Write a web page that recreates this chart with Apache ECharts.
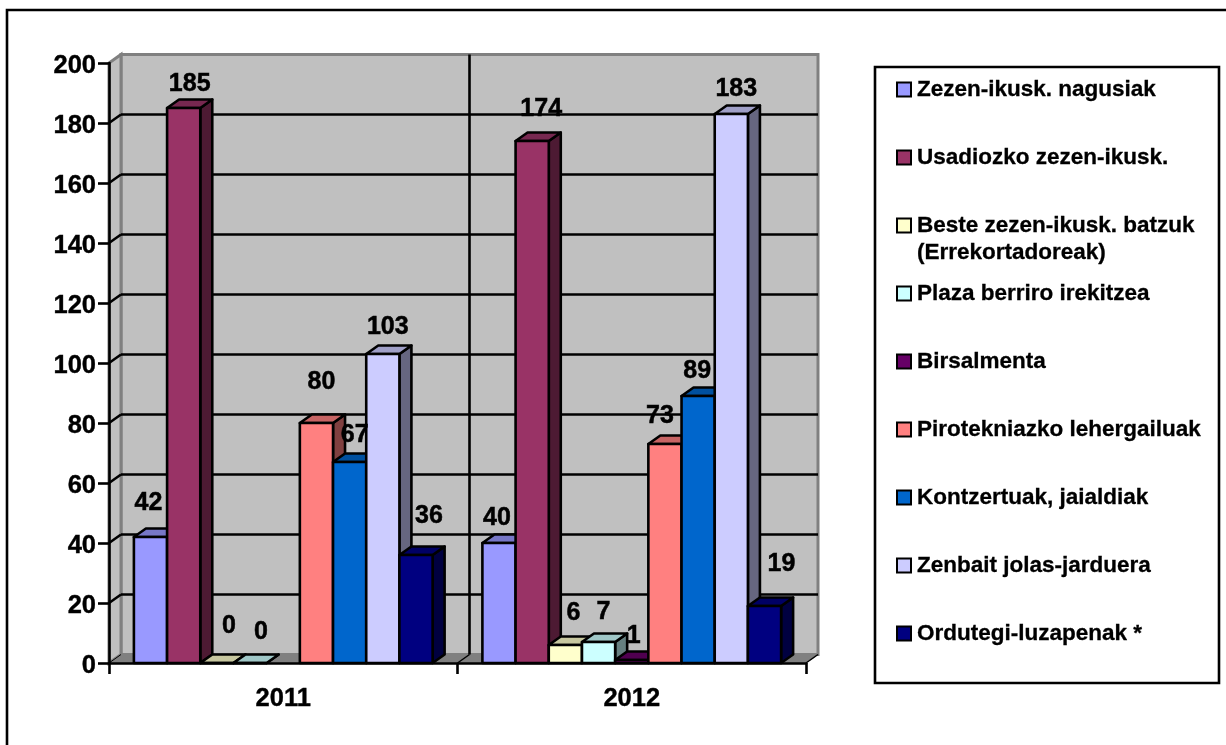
<!DOCTYPE html>
<html>
<head>
<meta charset="utf-8">
<style>html,body{margin:0;padding:0;background:#fff}#c{width:1226px;height:745px}</style>
<script src="https://cdn.jsdelivr.net/npm/echarts@6/dist/echarts.min.js"></script>
</head>
<body>
<div id="c"></div>
<script>
const categories = ['2011', '2012'];
const seriesNames = [
  'Zezen-ikusk. nagusiak',
  'Usadiozko zezen-ikusk.',
  'Beste zezen-ikusk. batzuk\n(Errekortadoreak)',
  'Plaza berriro irekitzea',
  'Birsalmenta',
  'Pirotekniazko lehergailuak',
  'Kontzertuak, jaialdiak',
  'Zenbait jolas-jarduera',
  'Ordutegi-luzapenak *'
];
const zezenNagusiak = [42, 40];
const usadiozko = [185, 174];
const besteZezen = [0, 6];
const plazaBerriro = [0, 7];
const birsalmenta = [null, 1];
const pirotekniazko = [80, 73];
const kontzertuak = [67, 89];
const jolasJarduera = [103, 183];
const ordutegi = [36, 19];
const seriesValues = [zezenNagusiak, usadiozko, besteZezen, plazaBerriro, birsalmenta, pirotekniazko, kontzertuak, jolasJarduera, ordutegi];
const yTicks = [0, 20, 40, 60, 80, 100, 120, 140, 160, 180, 200];

// styling
const colors = ['#9999FF', '#993366', '#FFFFCC', '#CCFFFF', '#660066', '#FF8080', '#0066CC', '#CCCCFF', '#000080'];
const labelNudge = [ // per series, per category: [dx, dy] of the data label from the top of the bar
  [[-2, -34], [-2, -25]],
  [[6, -24], [9, -32]],
  [[12, -37], [8, -32]],
  [[11, -31], [5, -30]],
  [[0, 0], [2, -24]],
  [[5, -41], [-5, -28]],
  [[5, -27], [-1, -25]],
  [[5, -27], [5, -25]],
  [[13, -39], [17, -42]]
];
const legendCenterY = [89.5, 157.5, 225.5, 293.5, 361.5, 429.5, 497.5, 565.5, 633.5];
const LEGEND_LINE = 27;
const DX = 12, DY = 8.5;
const FONT = '"Liberation Sans", Arial, sans-serif';
const LW = 2.6;

function shade(hex, f) {
  const n = parseInt(hex.slice(1), 16);
  const c = [(n >> 16) & 255, (n >> 8) & 255, n & 255].map(v => Math.round(v * f));
  return 'rgb(' + c.join(',') + ')';
}

function renderWall(params, api) {
  const y0 = api.coord([0, 0]);
  const y1 = api.coord([categories.length - 1, yTicks[yTicks.length - 1]]);
  const catW = api.size([1, 0])[0];
  const L = y0[0] - catW / 2, R = y1[0] + catW / 2, B = y0[1], T = y1[1];
  const kids = [];
  const poly = (pts, fill, stroke, lw) => kids.push({
    type: 'polygon', shape: { points: pts },
    style: { fill, stroke, lineWidth: lw }
  });
  const line = (x1, y1_, x2, y2, stroke, lw) => kids.push({
    type: 'line', shape: { x1, y1: y1_, x2, y2 },
    style: { stroke, lineWidth: lw }
  });
  poly([[L + DX, T - DY], [R + DX, T - DY], [R + DX, B - DY], [L + DX, B - DY]], '#C0C0C0', '#808080', 3);
  poly([[L, B], [L + DX, B - DY], [L + DX, T - DY], [L, T]], '#C0C0C0', '#808080', 3);
  poly([[L, B], [L + DX, B - DY], [R + DX, B - DY], [R, B]], '#808080', '#808080', 1);
  yTicks.forEach(t => {
    const y = api.coord([0, t])[1];
    if (t > 0 && t < yTicks[yTicks.length - 1]) line(L + DX, y - DY, R + DX, y - DY, '#000', LW);
    if (t < yTicks[yTicks.length - 1]) line(L, y, L + DX, y - DY, '#000', t === 0 ? 1 : LW);
  });
  const mid = L + catW;
  line(mid + DX, T - DY, mid + DX, B - DY, '#000', LW);
  for (let i = 1; i <= categories.length; i++) {
    line(L + catW * i, B, L + catW * i + DX, B - DY, '#000', 1.5);
  }
  return { type: 'group', children: kids };
}

function makeRenderer(si) {
  return function (params, api) {
    const cat = api.value(0), val = api.value(1);
    if (val == null || isNaN(val)) return null;
    const catW = api.size([1, 0])[0];
    const bw = catW / 10.5;
    const base = api.coord([cat, 0]);
    const top = api.coord([cat, val]);
    const x = base[0] - catW / 2 + bw * 0.75 + si * bw;
    const yT = top[1], yB = base[1];
    const c = colors[si];
    const st = (fill) => ({ fill, stroke: '#000', lineWidth: LW, lineJoin: 'round' });
    const n = labelNudge[si][cat];
    return {
      type: 'group',
      children: [
        { type: 'polygon', z2: si, shape: { points: [[x + bw, yB], [x + bw + DX, yB - DY], [x + bw + DX, yT - DY], [x + bw, yT]] }, style: st(shade(c, 0.5)) },
        { type: 'polygon', z2: si, shape: { points: [[x, yT], [x + DX, yT - DY], [x + bw + DX, yT - DY], [x + bw, yT]] }, style: st(shade(c, 0.78)) },
        { type: 'rect', z2: si, shape: { x, y: yT, width: bw, height: yB - yT }, style: st(c) },
        { type: 'text', z2: 100, style: {
            x: x + bw / 2 + n[0], y: yT + n[1], text: String(val),
            fill: '#000', stroke: '#000', lineWidth: 0.5, font: 'bold 25px ' + FONT, textAlign: 'center', textVerticalAlign: 'middle'
        } }
      ]
    };
  };
}

const series = [{
  type: 'custom', name: 'wall', silent: true, clip: false, z: 1,
  renderItem: renderWall,
  data: [[0, 0]],
  encode: { x: 0, y: 1 }
}];
seriesNames.forEach((name, si) => {
  series.push({
    type: 'custom', name, clip: false, z: 2,
    itemStyle: { color: colors[si] },
    renderItem: makeRenderer(si),
    data: seriesValues[si].map((v, c) => [c, v]),
    encode: { x: 0, y: 1 }
  });
});

const legends = seriesNames.map((name, i) => {
  const multi = name.includes('\n');
  return {
    show: true,
    left: 896,
    top: legendCenterY[i] - (multi ? 1.5 : 0.5) * LEGEND_LINE,
    padding: 0,
    orient: 'vertical',
    selectedMode: false,
    data: [{ name, icon: 'rect' }],
    itemWidth: 14,
    itemHeight: 14,
    itemGap: 0,
    itemStyle: { borderColor: '#000', borderWidth: 2 },
    textStyle: { color: '#000', fontFamily: FONT, fontWeight: 'bold', fontSize: 22.5, lineHeight: LEGEND_LINE, padding: [0, 0, 0, 1], textBorderColor: '#000', textBorderWidth: 0.3 },
    formatter: n => n.includes('\n') ? '\n' + n : n
  };
});

const axisFont = { color: '#000', fontFamily: FONT, fontWeight: 'bold', fontSize: 25.5, textBorderColor: '#000', textBorderWidth: 0.4 };

const chart = echarts.init(document.getElementById('c'), null, { renderer: 'canvas' });
chart.setOption({
  animation: false,
  backgroundColor: '#fff',
  tooltip: { show: false },
  grid: { left: 109, top: 63, width: 697, height: 600, containLabel: false },
  xAxis: {
    type: 'category', data: categories, z: 10,
    axisLine: { lineStyle: { color: '#000', width: LW } },
    axisTick: { show: true, alignWithLabel: false, length: 11, lineStyle: { color: '#000', width: LW } },
    axisLabel: Object.assign({ margin: 23 }, axisFont),
    splitLine: { show: false }
  },
  yAxis: {
    type: 'value', min: 0, max: 200, interval: 20, z: 10,
    axisLine: { show: true, lineStyle: { color: '#000', width: LW } },
    axisTick: { show: true, length: 11, lineStyle: { color: '#000', width: LW } },
    axisLabel: Object.assign({ margin: 13, verticalAlign: 'top', lineHeight: 6 }, axisFont),
    splitLine: { show: false }
  },
  legend: legends,
  graphic: [
    { type: 'polyline', silent: true, shape: { points: [[7, 745], [7, 10], [1226, 10]] }, style: { fill: 'none', stroke: '#000', lineWidth: 2.6 } },
    { type: 'rect', silent: true, z: -1, shape: { x: 875, y: 67, width: 344, height: 616 }, style: { fill: '#fff', stroke: '#000', lineWidth: 2.6 } }
  ],
  series
});
</script>
</body>
</html>
